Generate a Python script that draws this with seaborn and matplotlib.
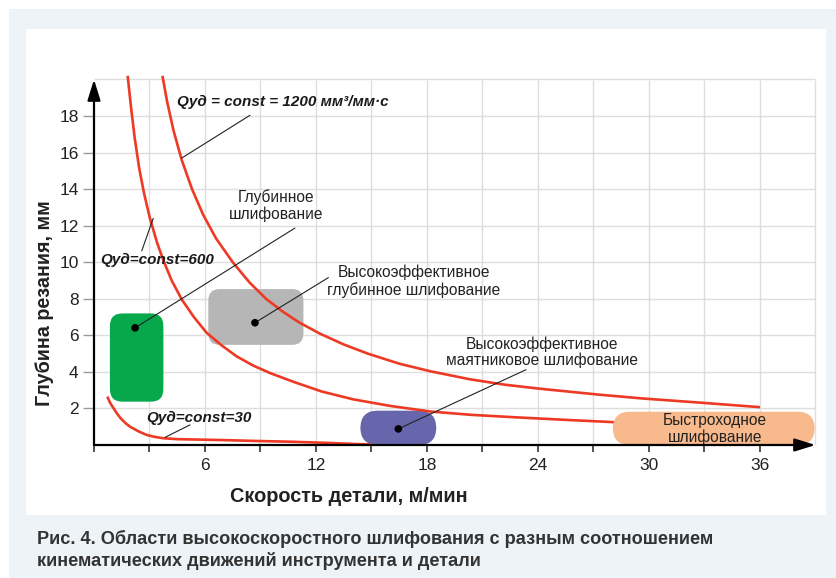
import matplotlib
matplotlib.use("Agg")
import matplotlib.pyplot as plt
from matplotlib.patches import FancyBboxPatch, Rectangle
import pandas as pd
import seaborn as sns

# --- constant specific removal rate curves: workpiece speed (m/min) vs depth of cut (mm)
speed_1200 = [3.70, 3.95, 4.30, 4.74, 5.30, 5.90, 6.60, 7.50, 8.40, 9.30, 10.2, 11.1, 12.2, 13.5,
              14.8, 16.5, 18.2, 20.3, 22.2, 24.1, 27.35, 29.6, 33.0, 36.0]
depth_1200 = [20.2, 18.8, 17.2, 15.6, 14.0, 12.6, 11.3, 10.0, 8.9, 8.0, 7.3, 6.7, 6.1, 5.5,
              5.0, 4.45, 4.03, 3.60, 3.30, 3.08, 2.75, 2.55, 2.30, 2.07]

speed_600 = [1.82, 2.00, 2.20, 2.45, 2.70, 3.00, 3.40, 3.75, 4.20, 4.74, 5.40, 6.09, 6.90, 7.71,
             8.60, 9.51, 10.8, 12.3, 14.0, 16.0, 18.2, 20.4, 22.7, 25.4, 28.1]
depth_600 = [20.2, 18.5, 16.8, 15.1, 13.8, 12.5, 11.1, 10.1, 9.0, 7.97, 7.0, 6.14, 5.45, 4.85,
             4.35, 3.94, 3.45, 2.93, 2.50, 2.14, 1.83, 1.65, 1.52, 1.38, 1.25]

speed_30 = [0.72, 0.85, 1.00, 1.23, 1.45, 1.70, 1.95, 2.40, 2.85, 3.30, 3.75, 4.50, 5.50, 6.97,
            8.80, 10.6, 12.5, 14.2, 15.0]
depth_30 = [2.65, 2.35, 2.10, 1.74, 1.45, 1.20, 1.00, 0.75, 0.55, 0.44, 0.37, 0.32, 0.30, 0.27,
            0.22, 0.18, 0.12, 0.05, 0.03]

curve_names = ["1200", "600", "30"]

# --- grinding regions: speed range, depth range, colour
region_names = ["Глубинное шлифование",
                "Высокоэффективное глубинное шлифование",
                "Высокоэффективное маятниковое шлифование",
                "Быстроходное шлифование"]
region_speed = [(0.86, 3.75), (6.18, 11.32), (14.4, 18.5), (28.05, 38.95)]
region_depth = [(2.37, 7.20), (5.48, 8.53), (0.0, 1.88), (0.0, 1.82)]
region_colors = ["#07a84c", "#b6b6b6", "#6766ad", "#f8b98c"]
region_round = [0.68, 0.6, 0.94, 0.91]

# marker points inside regions and where their callout lines end
dot_speed = [2.22, 8.70, 16.45]
dot_depth = [6.41, 6.69, 0.88]
callout_speed = [10.86, 12.67, 23.35]
callout_depth = [11.87, 9.16, 4.12]

grid_x = list(range(3, 40, 3))
grid_y = list(range(2, 21, 2))
x_ticks = list(range(0, 37, 3))
y_ticks = list(range(2, 19, 2))

RED = "#ee3a24"
FONT = ["Liberation Sans", "DejaVu Sans"]

sns.set_theme(style="white")
plt.rcParams["font.family"] = FONT

fig = plt.figure(figsize=(8.37, 5.78), dpi=100)
fig.patch.set_facecolor("white")

# page background and white card
fig.add_artist(Rectangle((9 / 837, 0), 1, 1 - 9 / 578, transform=fig.transFigure,
                         facecolor="#eef3f7", edgecolor="none", zorder=-10))
fig.add_artist(Rectangle((25.6 / 837, 1 - 515 / 578), (826.5 - 25.6) / 837, (515 - 29) / 578,
                         transform=fig.transFigure, facecolor="white", edgecolor="none", zorder=-9))

ax = fig.add_axes([94 / 837, 1 - 445 / 578, (815.5 - 94) / 837, (445 - 79.5) / 578])
ax.set_facecolor("none")
ax.set_xlim(0, 39)
ax.set_ylim(0, 20)

# grid
for gx in grid_x:
    ax.axvline(gx, color="#dedede", lw=1.0, zorder=0)
for gy in grid_y:
    ax.axhline(gy, color="#dedede", lw=1.0, zorder=0)

ax.set_xticks(x_ticks)
ax.set_xticklabels([str(t) if (t % 6 == 0 and t > 0) else "" for t in x_ticks])
ax.set_yticks(y_ticks)
ax.set_yticklabels([str(t) for t in y_ticks])
for s in ax.spines.values():
    s.set_visible(False)
ax.tick_params(axis="x", bottom=True, length=5, width=1.1, color="#222", labelsize=12.5,
               labelcolor="#222", pad=4)
ax.tick_params(axis="y", left=True, length=8, width=1.0, color="#9a9a9a", labelsize=12.5,
               labelcolor="#222", pad=3)

# regions
for (x0, x1), (y0, y1), c, r in zip(region_speed, region_depth, region_colors, region_round):
    ax.add_patch(FancyBboxPatch((x0, y0), x1 - x0, y1 - y0,
                                boxstyle=f"round,pad=0,rounding_size={r}",
                                mutation_aspect=18.5 / 18.2,
                                facecolor=c, edgecolor="none", zorder=2, clip_on=False))

# curves
frames = []
for name, xs, ys in zip(curve_names, [speed_1200, speed_600, speed_30], [depth_1200, depth_600, depth_30]):
    frames.append(pd.DataFrame({"speed": xs, "depth": ys, "curve": name}))
curves = pd.concat(frames, ignore_index=True)
sns.lineplot(data=curves, x="speed", y="depth", hue="curve",
             palette={n: RED for n in curve_names}, estimator=None, sort=False,
             lw=1.9, legend=False, ax=ax, zorder=3)
for line in ax.lines:
    line.set_clip_on(False)
    line.set_solid_capstyle("butt")
    line.set_solid_joinstyle("round")
ax.set_xlabel("")
ax.set_ylabel("")

# callouts to regions
for xs, ys, xe, ye in zip(dot_speed, dot_depth, callout_speed, callout_depth):
    ax.plot([xs, xe], [ys, ye], color="#222", lw=0.8, zorder=4)
sns.scatterplot(x=dot_speed, y=dot_depth, color="black", s=30, edgecolor="none", ax=ax, zorder=5)

ann = dict(fontsize=11.2, color="#222", linespacing=1.1, zorder=6)
ax.text(9.84, 13.1, "Глубинное\nшлифование", ha="center", va="center", **ann)
ax.text(17.3, 8.96, "Высокоэффективное\nглубинное шлифование", ha="center", va="center", **ann)
ax.text(24.2, 5.08, "Высокоэффективное\nмаятниковое шлифование", ha="center", va="center", **ann)
ax.text(33.57, 0.88, "Быстроходное\nшлифование", ha="center", va="center", **ann)

# curve labels
lab = dict(fontsize=11.0, color="#1a1a1a", fontweight="bold", style="italic", zorder=6)
ax.text(4.47, 18.79, "Qуд = const = 1200 мм³/мм·с", ha="left", va="center", **lab)
ax.plot([8.43, 4.74], [18.04, 15.7], color="#222", lw=0.8, zorder=4)
ax.text(0.35, 10.1, "Qуд=const=600", ha="left", va="center", **lab)
ax.plot([2.58, 3.2], [10.62, 12.4], color="#222", lw=0.8, zorder=4)
ax.text(2.82, 1.48, "Qуд=const=30", ha="left", va="center", **lab)
ax.plot([5.19, 3.84], [1.1, 0.42], color="#222", lw=0.8, zorder=4)

# axes with arrowheads
arrow = dict(arrowstyle="-|>,head_length=0.9,head_width=0.28", color="black", lw=1.6,
             mutation_scale=14, shrinkA=0, shrinkB=0)
ax.annotate("", xy=(1.0, 0), xytext=(0, 0), xycoords="axes fraction", arrowprops=arrow, zorder=7)
ax.annotate("", xy=(0, 1.0), xytext=(0, 0), xycoords="axes fraction", arrowprops=arrow, zorder=7)

# axis titles
fig.text(44.5 / 837, 1 - 303 / 578, "Глубина резания, мм", rotation=90, ha="center", va="center",
         fontsize=14.2, fontweight="bold", color="#222")
fig.text(348.5 / 837, 1 - 496 / 578, "Скорость детали, м/мин", ha="center", va="center",
         fontsize=14.3, fontweight="bold", color="#222")

# figure caption
fig.text(37 / 837, 1 - 550 / 578,
         "Рис. 4. Области высокоскоростного шлифования с разным соотношением\n"
         "кинематических движений инструмента и детали",
         ha="left", va="center", fontsize=13.1, fontweight="bold",
         color="#333", linespacing=1.25)

fig.savefig("out.png", dpi=100)
